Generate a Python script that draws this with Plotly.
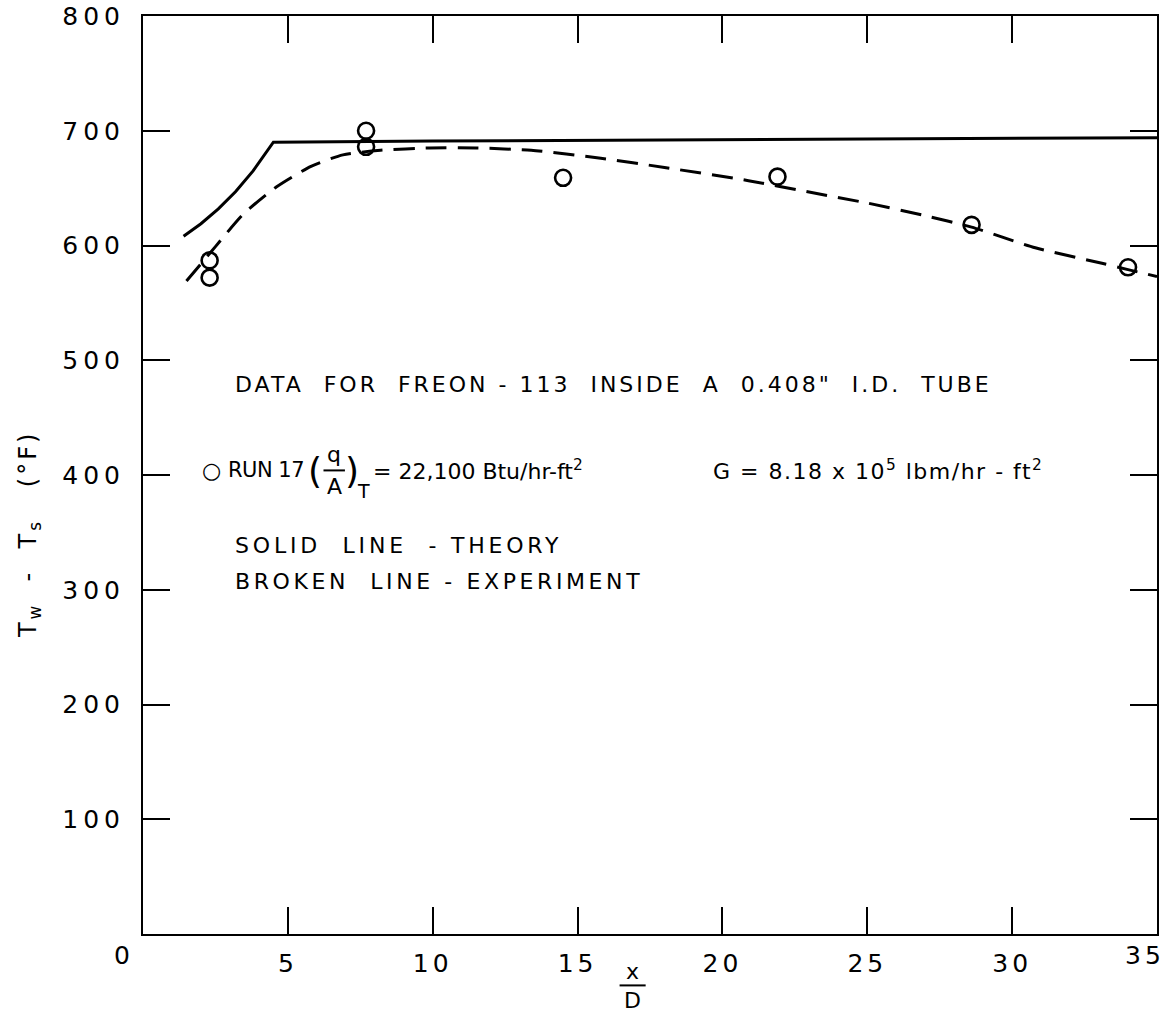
import plotly.graph_objects as go

# ---- data ----
run17_x = [2.3, 2.3, 7.7, 7.7, 14.5, 21.9, 28.6, 34.0]
run17_y = [587, 572, 700, 686, 659, 660, 618, 581]

theory_x = [1.4, 2.0, 2.6, 3.2, 3.8, 4.5, 10, 20, 35]
theory_y = [608, 619, 632, 647, 665, 690, 691, 692, 694]

exp_x = [1.5, 2.5, 3.45, 4.6, 5.8, 6.9, 8.2, 9.9, 11.5, 13.4, 15.8, 18.0, 20.9, 22.9,
         25.0, 27.0, 28.6, 30.8, 33.1, 34.0, 35.0]
exp_y = [569, 599, 627, 651, 669, 679, 683, 685, 685, 683, 676, 668, 656.5, 647,
         637, 626, 616, 598, 584.5, 579, 573]

x_ticks = [0, 5, 10, 15, 20, 25, 30, 35]
x_labels = ["0", "5", "10", "15", "20", "25", "30", "35"]
y_ticks = [100, 200, 300, 400, 500, 600, 700, 800]
y_labels = ["100", "200", "300", "400", "500", "600", "700", "800"]

FONT = "DejaVu Sans"


def sp(s, ls):
    return '<span style="letter-spacing:%gpx">%s</span>' % (ls, s)


fig = go.Figure()
fig.add_trace(go.Scatter(x=theory_x, y=theory_y, mode="lines",
                         line=dict(color="black", width=3), showlegend=False))
fig.add_trace(go.Scatter(x=exp_x, y=exp_y, mode="lines",
                         line=dict(color="black", width=3, dash="21px,11px", shape="spline", smoothing=0.6),
                         showlegend=False))
fig.add_trace(go.Scatter(x=run17_x, y=run17_y, mode="markers",
                         marker=dict(symbol="circle-open", size=16, color="black", line=dict(width=2.6)),
                         showlegend=False))

axis_common = dict(showline=True, linecolor="black", linewidth=2, mirror="allticks",
                   ticks="inside", ticklen=27, tickwidth=1.5, tickcolor="black",
                   showgrid=False, zeroline=False, automargin=False,
                   ticklabeloverflow="allow",
                   tickfont=dict(family=FONT, size=25, color="black"))

# the first and last x labels are hand placed (shifted) in the reference -> drawn as annotations
x_ticktext = [""] + [sp(t, 4) for t in x_labels[1:-1]] + [""]
fig.update_xaxes(range=[0, 35], tickvals=x_ticks, ticktext=x_ticktext, ticklabelstandoff=6, **axis_common)
fig.update_yaxes(range=[0, 800], tickvals=y_ticks,
                 ticktext=[sp(t, 5) for t in y_labels], ticklabelstandoff=11, **axis_common)

ann = []
txt = dict(family=FONT, size=22, color="black")
tickf = dict(family=FONT, size=25, color="black")
ann.append(dict(x=-0.0207, y=-0.023, xref="paper", yref="paper", text=x_labels[0], showarrow=False,
                font=tickf, xanchor="center", yanchor="middle"))
ann.append(dict(x=0.988, y=-0.023, xref="paper", yref="paper", text=sp(x_labels[-1], 4), showarrow=False,
                font=tickf, xanchor="center", yanchor="middle"))
# y title
ann.append(dict(x=-0.112, y=0.435, xref="paper", yref="paper", textangle=-90,
                text=sp("T<sub>w</sub>  -  T<sub>s</sub>   (°F)", 3), showarrow=False,
                font=dict(family=FONT, size=24, color="black"), xanchor="center", yanchor="middle"))
# x title fraction
ann.append(dict(x=16.9, y=-0.041, xref="x", yref="paper", text="x", showarrow=False,
                font=dict(family=FONT, size=22, color="black"), xanchor="center", yanchor="middle"))
ann.append(dict(x=16.9, y=-0.072, xref="x", yref="paper", text="D", showarrow=False,
                font=dict(family=FONT, size=22, color="black"), xanchor="center", yanchor="middle"))

# text block
ann.append(dict(x=3.1, y=479, xref="x", yref="y", xanchor="left", yanchor="middle", showarrow=False,
                text=sp("DATA  FOR  FREON - 113  INSIDE  A  0.408\"  I.D.  TUBE", 3), font=txt))
ann.append(dict(x=2.35, y=404, xref="x", yref="y", xanchor="center", yanchor="middle", showarrow=False,
                text="○", font=dict(family=FONT, size=22, color="black")))
ann.append(dict(x=2.85, y=404, xref="x", yref="y", xanchor="left", yanchor="middle", showarrow=False,
                text=sp("RUN 17", -0.5), font=dict(family=FONT, size=21, color="black")))
ann.append(dict(x=5.95, y=404, xref="x", yref="y", xanchor="center", yanchor="middle", showarrow=False,
                text="(", font=dict(family=FONT, size=36, color="black")))
ann.append(dict(x=6.6, y=418, xref="x", yref="y", xanchor="center", yanchor="middle", showarrow=False,
                text="q", font=txt))
ann.append(dict(x=6.6, y=390, xref="x", yref="y", xanchor="center", yanchor="middle", showarrow=False,
                text="A", font=txt))
ann.append(dict(x=7.22, y=404, xref="x", yref="y", xanchor="center", yanchor="middle", showarrow=False,
                text=")", font=dict(family=FONT, size=36, color="black")))
ann.append(dict(x=7.62, y=386, xref="x", yref="y", xanchor="center", yanchor="middle", showarrow=False,
                text="T", font=dict(family=FONT, size=19, color="black")))
ann.append(dict(x=7.88, y=404, xref="x", yref="y", xanchor="left", yanchor="middle", showarrow=False,
                text="= 22,100 Btu/hr-ft<sup>2</sup>", font=txt))
ann.append(dict(x=19.6, y=404, xref="x", yref="y", xanchor="left", yanchor="middle", showarrow=False,
                text=sp("G = 8.18 x 10<sup>5</sup> lbm/hr - ft<sup>2</sup>", 1.5), font=txt))
ann.append(dict(x=3.1, y=339, xref="x", yref="y", xanchor="left", yanchor="middle", showarrow=False,
                text=sp("SOLID  LINE  - THEORY", 3.8), font=txt))
ann.append(dict(x=3.1, y=307, xref="x", yref="y", xanchor="left", yanchor="middle", showarrow=False,
                text=sp("BROKEN  LINE - EXPERIMENT", 3.6), font=txt))

shapes = [
    dict(type="line", xref="x", yref="paper", x0=16.45, x1=17.35, y0=-0.056, y1=-0.056,
         line=dict(color="black", width=2)),
    dict(type="line", xref="x", yref="y", x0=6.23, x1=6.97, y0=404, y1=404,
         line=dict(color="black", width=2)),
]

fig.update_layout(width=1174, height=1020, margin=dict(l=143, r=17, t=16, b=86),
                  plot_bgcolor="white", paper_bgcolor="white",
                  annotations=ann, shapes=shapes, showlegend=False)

# remove the default 8px body margin so the figure fills the window exactly
fig.write_html("out.html", config={"displayModeBar": False},
               post_script="document.body.style.margin='0';document.body.style.overflow='hidden';")
